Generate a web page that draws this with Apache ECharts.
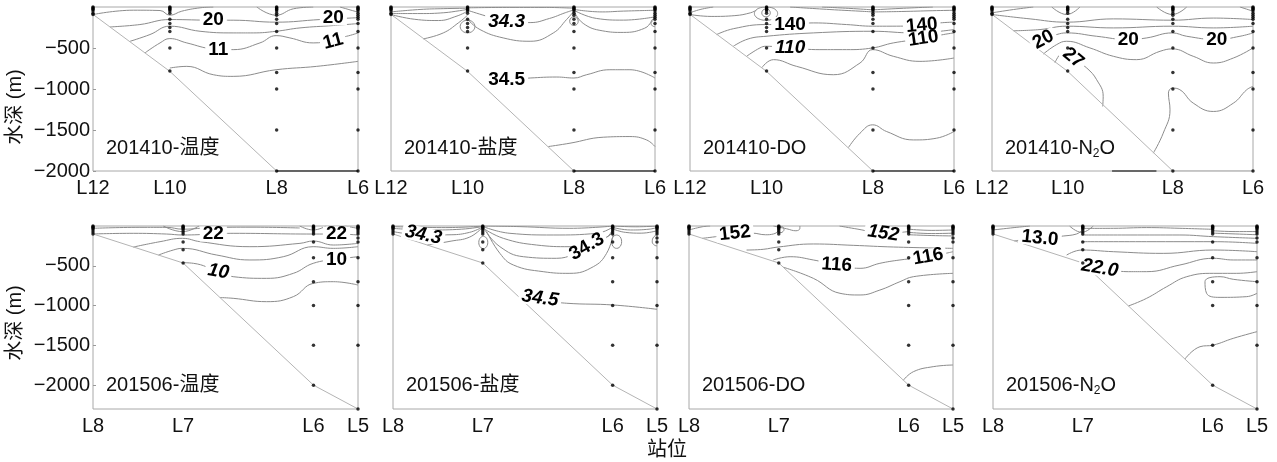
<!DOCTYPE html>
<html>
<head>
<meta charset="utf-8">
<script src="https://cdn.jsdelivr.net/npm/echarts@6/dist/echarts.min.js"></script>
<style>
html,body{margin:0;padding:0;background:#fff;}
#chart{width:1277px;height:462px;}
</style>
</head>
<body>
<div id="chart"></div>
<script>
// ---- Stations (distance along the section, 0-100) ----
const stations1410 = ['L12', 'L10', 'L8', 'L6'];
const stationX1410 = [0, 29, 69.3, 100];
const stations1506 = ['L8', 'L7', 'L6', 'L5'];
const stationX1506 = [0, 34, 83.2, 100];
const depthTicks = [500, 1000, 1500, 2000];
const maxDepth1410 = 2000;
const maxDepth1506 = 2300;

// ---- Sampling depths (m) at each station ----
const samples1410 = [
  [0, 10, 20, 30, 50, 75, 90],
  [0, 10, 20, 30, 50, 75, 150, 200, 250, 300, 500, 780],
  [0, 10, 20, 30, 50, 75, 100, 150, 200, 300, 500, 800, 1000, 1500, 2000],
  [0, 10, 20, 30, 50, 75, 100, 125, 150, 200, 300, 500, 800, 1000, 1500, 2000]
];
const samples1506 = [
  [0, 10, 20, 30, 50, 75, 100],
  [0, 10, 20, 30, 50, 75, 100, 200, 300, 465],
  [0, 10, 20, 30, 50, 75, 100, 200, 400, 700, 1000, 1500, 2000],
  [0, 10, 20, 30, 50, 75, 100, 150, 200, 400, 700, 1000, 1500, 2300]
];

// ---- Seabed profile [distance, depth] ----
const seabed1410 = [[0, 90], [29, 785], [69.3, 2000], [100, 2000]];
const seabed1506 = [[0, 100], [34, 465], [83.2, 2000], [100, 2300]];
const floor1410 = [[69.3, 2000], [100, 2000]];
const floorN2o1410 = [[46, 2000], [63, 2000]];

// ---- Isolines [distance, depth] ----
const temp1410Lines = [
  [[0,92],[15.2,39],[25.3,43],[29,100],[33.5,51],[40.4,10],[45.4,0]],
  [[61.8,0],[69.1,100],[75.6,22],[83.1,0]],
  [[93.2,0],[100,63]],
  [[6.4,243],[17.7,214],[29,153],[45.4,161],[52.9,161],[69.1,185],[85.7,153],[97,135],[100,130]],
  [[14,418],[21.5,336],[29,234],[40.4,296],[52.9,316],[60.5,316],[69.1,296],[78.1,255],[90.7,226],[100,202]],
  [[19.6,560],[25.3,438],[29,385],[35.4,438],[45.4,511],[52.9,520],[63,438],[69.1,349],[74.3,377],[83.1,438],[95.7,357],[100,316]],
  [[29,744],[35.4,724],[45.4,826],[52.9,846],[69.1,765],[84.4,724],[100,663]]
];
const temp1410Labels = [[45.4,161,'20'],[90.7,132,'20'],[47.3,520,'11'],[90.6,418,'11']];

const sal1410Lines = [
  [[0,60],[11,30],[20,20],[29,15]],
  [[0,80],[11,80],[20,70],[26,45],[29,30]],
  [[0,92],[9,150],[18,165],[25,110],[29,50]],
  [[12.2,389],[19.8,316],[25.5,194],[29,100]],
  [[29,10],[45,5],[58,5],[69.3,15]],
  [[29,40],[36,110],[43.8,180],[52.7,190],[60,140],[66,70],[69.3,35]],
  [[29,150],[33.7,275],[42.5,377],[52.7,418],[61.5,316],[66.5,153],[69.3,51]],
  [[29,161],[30.4,171],[31.4,200],[31.8,238],[31.4,276],[30.4,305],[29,315],[27.6,305],[26.6,276],[26.2,238],[26.6,200],[27.6,171],[29,161]],
  [[69.3,120],[70.1,127],[70.7,146],[70.9,173],[70.7,200],[70.1,219],[69.3,226],[68.5,219],[67.9,200],[67.7,173],[67.9,146],[68.5,127],[69.3,120]],
  [[69.3,30],[80,60],[88,50],[100,40]],
  [[69.3,40],[77.9,140],[88,160],[100,120]],
  [[69.3,50],[72.8,200],[80,290],[88,310],[96,260],[99,170],[100,140]],
  [[100,130],[98.8,160],[98.5,200],[99,230],[100,240]],
  [[43.8,887],[52.7,866],[62.8,854],[69.3,866],[74.1,826],[82.9,765],[90.5,765],[100,866]],
  [[59.6,1702],[67.8,1661],[80.4,1588],[90.5,1580],[96.8,1621],[100,1702]]
];
const sal1410Labels = [[43.8,185,'34.3'],[43.8,887,'34.5']];

const do1410Lines = [
  [[0,71],[3.8,31],[8.8,0]],
  [[0,92],[8,115],[17,105],[23,70],[25,40]],
  [[28.8,0],[31,9],[32.6,39],[33.2,80],[32.6,121],[31,151],[28.8,162],[26.6,151],[25,121],[24.4,80],[25,39],[26.6,9],[28.8,0]],
  [[28.8,24],[29.6,30],[30.2,48],[30.4,72],[30.2,96],[29.6,114],[28.8,120],[28,114],[27.4,96],[27.2,72],[27.4,48],[28,30],[28.8,24]],
  [[37.9,0],[53,31],[64.4,51],[69.2,60]],
  [[50,0],[62,20],[69.2,35]],
  [[69.2,35],[78,20],[88,5],[92,0]],
  [[69.2,60],[80,55],[92,45],[100,40]],
  [[10.1,336],[16.4,265],[28.8,214],[37.9,214],[46.7,194],[59.3,214],[69.2,234],[74.5,234],[87.8,225],[94.7,194],[100,185]],
  [[16.4,479],[22,390],[28.8,357],[46.7,316],[69.2,296],[84.6,316],[100,275]],
  [[21.5,600],[26.5,499],[28.8,479],[37.9,499],[49.2,520],[59.3,520],[69.2,499],[77,438],[88.4,385],[96,336],[100,316]],
  [[27.2,740],[31.6,642],[40.4,724],[54.3,826],[64.4,683],[69.2,520],[77,601],[87.1,663],[100,622]],
  [[60,1715],[64.4,1539],[69.2,1437],[74.5,1519],[84.6,1621],[93.4,1600],[100,1519]]
];
const do1410Labels = [[37.9,214,'140'],[87.8,225,'140'],[37.9,499,'110'],[88.4,385,'110']];

const n2o1410Lines = [
  [[22.9,0],[28.6,92],[33.7,0]],
  [[63.1,0],[69.1,92],[74.6,0]],
  [[95,0],[100,51]],
  [[0,71],[8.2,31],[15.8,0]],
  [[0,92],[14.6,145],[28.6,185],[46.5,145],[69.1,161],[84.8,135],[100,153]],
  [[8.2,290],[18.4,275],[28.6,234],[46.5,255],[69.1,234],[84.8,255],[100,234]],
  [[14.6,440],[19.7,397],[24.8,336],[28.6,316],[40.1,357],[52.2,397],[59.3,377],[69.1,316],[74.6,357],[86.1,397],[95,357],[100,316]],
  [[19.7,573],[24.8,458],[28.6,418],[37.5,499],[46.5,601],[55.4,642],[64.4,540],[69.1,511],[77.1,601],[84.8,683],[92.5,622],[100,499]],
  [[24.1,680],[26.5,560],[28.5,540],[31.1,622],[36.3,744],[40.1,887],[42.6,1090],[42.4,1213]],
  [[61.8,1782],[65.6,1539],[68.2,1254],[67.6,1050],[69.1,989],[72,1009],[77.1,1172],[84.8,1274],[92.5,1172],[97.6,1009],[100,968]]
];
const n2o1410Labels = [[19.7,397,'20'],[52.2,397,'20'],[86.1,397,'20'],[31.1,622,'27']];

const temp1506Lines = [
  [[26.5,0],[33.8,71],[40,0]],
  [[78,0],[83.1,50],[88,0]],
  [[95,0],[100,30]],
  [[0,29],[17.7,17],[27.8,17],[33.8,40],[45,20],[60,15],[78,25]],
  [[0,100],[15.2,92],[27.8,101],[33.8,113],[45.4,101],[52.9,92],[83.1,101],[91.9,101],[100,113]],
  [[15.2,265],[25.3,197],[33.8,155],[40.4,197],[59.2,260],[78.1,218],[83.1,189],[90.7,239],[100,218]],
  [[24.7,365],[30.3,302],[33.8,281],[46.7,365],[59.2,427],[71.8,386],[83.1,260],[90.7,281],[100,260]],
  [[33.8,461],[37.9,469],[47.3,574],[52.9,637],[65.5,658],[75.6,595],[83.1,469],[91.9,419],[100,386]],
  [[47.9,899],[52.9,909],[65.5,951],[75.6,888],[83.1,721],[90.7,700],[100,742]]
];
const temp1506Labels = [[45.4,101,'22'],[91.9,101,'22'],[47.3,574,'10'],[91.9,419,'10']];

const sal1506Lines = [
  [[0,8],[20,20],[34.2,0]],
  [[0,30],[14,50],[26,40],[34.2,5]],
  [[0,70],[11.5,113],[22,110],[29,80],[33.5,20]],
  [[13,240],[22,190],[29,140],[33.5,30]],
  [[34.2,129],[35.05,140],[35.67,168],[35.9,207],[35.67,246],[35.05,274],[34.2,285],[33.35,274],[32.73,246],[32.5,207],[32.73,168],[33.35,140],[34.2,129]],
  [[34.2,0],[48.1,8],[67,29],[83.5,0]],
  [[34.2,8],[44.3,92],[60.7,113],[77.2,92],[83.5,8]],
  [[34.2,29],[41.8,155],[54.4,239],[67,260],[79.6,176],[83.5,29]],
  [[34.8,50],[40.5,260],[49.4,386],[62,406],[73.4,260],[82.2,113],[83.5,50]],
  [[35.5,71],[40.5,344],[45.6,490],[56.9,574],[67,595],[75.9,511],[80.9,344],[83.5,92]],
  [[84.7,113],[85.65,124],[86.35,155],[86.6,197],[86.35,239],[85.65,270],[84.7,281],[83.75,270],[83.05,239],[82.8,197],[83.05,155],[83.75,124],[84.7,113]],
  [[83.5,0],[92,10],[100,0]],
  [[83.5,20],[90,50],[97,40],[100,20]],
  [[83.5,40],[88,80],[94,90],[100,60]],
  [[100,105],[98.5,150],[98.2,200],[99,240],[100,250]],
  [[55.7,930],[65.8,971],[83.5,993],[100,1047]]
];
const sal1506Labels = [[11.5,113,'34.3'],[73.4,260,'34.3'],[55.7,909,'34.5']];

const do1506Lines = [
  [[0,50],[5,10],[8,0]],
  [[5,155],[11,130],[17.4,95],[24,90],[29,110],[32,100],[33.8,60],[34.5,0]],
  [[34.8,5],[35.6,14],[36,42],[35.6,70],[34.8,84],[34,70],[33.6,42],[34,14],[34.8,5]],
  [[32,0],[37,35],[40.5,60],[42,30],[42,0]],
  [[57,0],[64,40],[73.6,92],[80,80],[83.3,70]],
  [[83.3,40],[92,55],[100,50]],
  [[83.3,80],[92,95],[100,90]],
  [[83.3,110],[92,120],[100,125]],
  [[21.8,302],[28.1,293],[33.8,264],[47.1,226],[62.2,243],[77.4,264],[100,281]],
  [[31.9,427],[38.3,386],[47.1,427],[55.9,490],[64.8,532],[72.3,469],[79.9,427],[90.6,386],[100,323]],
  [[35.7,518],[47.1,658],[57.2,846],[64.8,867],[72.3,805],[79.9,700],[85,637],[100,595]],
  [[81.2,1938],[85,1831],[92.5,1768],[100,1747]]
];
const do1506Labels = [[17.4,92,'152'],[73.6,92,'152'],[55.9,490,'116'],[90.6,386,'116']];

const n2o1506Lines = [
  [[0,50],[8,20],[14,0]],
  [[8,186],[17.8,155],[26.6,126],[31.6,101],[33.6,60]],
  [[29,0],[33.6,80],[38,0]],
  [[33.6,30],[45.6,29],[58.2,20],[70.8,29],[83.5,42]],
  [[33.6,113],[51.9,113],[70.8,113],[83.5,134],[100,155]],
  [[33.6,197],[58.2,197],[83.5,197],[100,218]],
  [[27.9,365],[33.6,302],[45.6,323],[64.5,344],[83.5,302],[100,323]],
  [[40.5,532],[51.3,574],[58.2,574],[70.8,490],[83.5,406],[91,427],[100,427]],
  [[51.3,1005],[58.2,909],[65.8,763],[73.4,637],[83.5,595],[92.3,595],[100,574]],
  [[100,700],[91,670],[86,637],[80.3,700],[80.9,846],[86,897],[96.1,888],[100,846]],
  [[72.7,1672],[78.4,1517],[83.5,1496],[91,1412],[100,1328]],
  [[83.5,60],[92,70],[100,70]],
  [[83.5,90],[92,100],[100,110]]
];
const n2o1506Labels = [[17.8,155,'13.0'],[40.5,532,'22.0']];

// ---- Layout & styling ----
const FONT = "'Liberation Sans', Arial, 'Noto Sans CJK SC', sans-serif";
const rows = [
  { stations: stations1410, x: stationX1410, maxDepth: maxDepth1410, samples: samples1410,
    seabed: seabed1410, top: 7, height: 164, lefts: [93, 391, 690, 992], widths: [265, 264, 264, 261],
    titleY: 148 },
  { stations: stations1506, x: stationX1506, maxDepth: maxDepth1506, samples: samples1506,
    seabed: seabed1506, top: 226, height: 183, lefts: [93, 393, 689, 993], widths: [265, 264, 264, 264],
    titleY: 385 }
];
const panels = [
  { row: 0, col: 0, title: ['201410-温度'], lines: temp1410Lines, labels: temp1410Labels, floor: floor1410,
    rot: [0, 0, 0, 15], italic: [0, 0, 0, 0] },
  { row: 0, col: 1, title: ['201410-盐度'], lines: sal1410Lines, labels: sal1410Labels, floor: floor1410,
    rot: [0, 0], italic: [1, 0] },
  { row: 0, col: 2, title: ['201410-DO'], lines: do1410Lines, labels: do1410Labels, floor: floor1410,
    rot: [0, 5, 0, 8], italic: [0, 0, 1, 0] },
  { row: 0, col: 3, title: ['201410-N', '2', 'O'], lines: n2o1410Lines, labels: n2o1410Labels, floor: floorN2o1410,
    rot: [28, 0, 0, -40], italic: [0, 0, 0, 0] },
  { row: 1, col: 0, title: ['201506-温度'], lines: temp1506Lines, labels: temp1506Labels, floor: null,
    rot: [0, 0, -10, 0], italic: [0, 0, 1, 0] },
  { row: 1, col: 1, title: ['201506-盐度'], lines: sal1506Lines, labels: sal1506Labels, floor: null,
    rot: [-12, 30, -8], italic: [1, 0, 1] },
  { row: 1, col: 2, title: ['201506-DO'], lines: do1506Lines, labels: do1506Labels, floor: null,
    rot: [6, -8, -4, 10], italic: [0, 1, 0, 0] },
  { row: 1, col: 3, title: ['201506-N', '2', 'O'], lines: n2o1506Lines, labels: n2o1506Labels, floor: null,
    rot: [-6, -10], italic: [0, 1] }
];

const measure = (() => {
  const ctx = document.createElement('canvas').getContext('2d');
  return (txt, size) => { ctx.font = size + "px 'Liberation Sans', Arial, 'Noto Sans CJK SC', sans-serif"; return ctx.measureText(txt).width; };
})();

const grid = [], xAxis = [], yAxis = [], series = [], graphic = [];

panels.forEach((p, i) => {
  const r = rows[p.row];
  const left = r.lefts[p.col], width = r.widths[p.col];
  grid.push({ left: left, top: r.top, width: width, height: r.height, show: true,
    borderColor: '#a8a8a8', borderWidth: 1, backgroundColor: 'transparent' });
  xAxis.push({
    gridIndex: i, type: 'value', min: 0, max: 100,
    axisLine: { show: false }, axisTick: { show: false }, splitLine: { show: false },
    axisLabel: {
      customValues: r.x,
      formatter: v => {
        let k = 0, best = Infinity;
        r.x.forEach((sx, j) => { const dd = Math.abs(sx - v); if (dd < best) { best = dd; k = j; } });
        return r.stations[k];
      },
      fontSize: 20, color: '#111', fontFamily: FONT, margin: 7
    }
  });
  const firstCol = p.col === 0;
  yAxis.push({
    gridIndex: i, type: 'value', inverse: true, min: 0, max: r.maxDepth,
    axisLine: { show: false }, splitLine: { show: false },
    axisTick: { show: firstCol, inside: true, length: 3, customValues: depthTicks, lineStyle: { color: '#999' } },
    axisLabel: { show: firstCol, customValues: depthTicks, formatter: v => '\u2212' + v,
      fontSize: 20, color: '#111', fontFamily: FONT, margin: 3 }
  });

  // isolines
  p.lines.forEach(l => {
    series.push({ type: 'line', xAxisIndex: i, yAxisIndex: i, data: l, smooth: 0.45, symbol: 'none',
      silent: true, animation: false, z: 2, lineStyle: { color: '#8c8c8c', width: 1 } });
  });
  // seabed
  series.push({ type: 'line', xAxisIndex: i, yAxisIndex: i, data: r.seabed, symbol: 'none', silent: true,
    animation: false, z: 3, lineStyle: { color: '#b4b4b4', width: 1 } });
  if (p.floor) {
    series.push({ type: 'line', xAxisIndex: i, yAxisIndex: i, data: p.floor, symbol: 'none', silent: true,
      animation: false, z: 3, clip: false, lineStyle: { color: '#444', width: 1.5 } });
  }
  // sampling points
  const dots = [];
  r.samples.forEach((list, s) => list.forEach(d => dots.push([r.x[s], d])));
  series.push({ type: 'scatter', xAxisIndex: i, yAxisIndex: i, data: dots, symbol: 'circle', symbolSize: 3.5,
    silent: true, animation: false, clip: false, z: 6, itemStyle: { color: '#000' } });
  // isoline values
  series.push({
    type: 'scatter', xAxisIndex: i, yAxisIndex: i, symbolSize: 1, silent: true, animation: false, z: 5,
    itemStyle: { color: 'rgba(0,0,0,0)' },
    data: p.labels.map((lb, k) => ({
      value: [lb[0], lb[1]], name: lb[2],
      label: { rotate: p.rot[k] || 0, fontStyle: p.italic[k] ? 'italic' : 'normal' }
    })),
    label: { show: true, position: 'inside', formatter: '{b}', fontSize: 19, fontWeight: 'bold',
      lineHeight: 15, color: '#000', opacity: 1, textBorderWidth: 0, textBorderColor: 'transparent',
      fontFamily: FONT, backgroundColor: '#fff', padding: [0, 3] }
  });

  // panel title
  const tx = left + 13;
  if (p.title.length === 1) {
    graphic.push({ type: 'text', x: tx, y: r.titleY, silent: true,
      style: { text: p.title[0], fontSize: 20, fontFamily: FONT, fill: '#111', align: 'left', verticalAlign: 'middle' } });
  } else {
    const w0 = measure(p.title[0], 20), w1 = measure(p.title[1], 12);
    graphic.push({ type: 'text', x: tx, y: r.titleY, silent: true,
      style: { text: p.title[0], fontSize: 20, fontFamily: FONT, fill: '#111', align: 'left', verticalAlign: 'middle' } });
    graphic.push({ type: 'text', x: tx + w0, y: r.titleY + 6, silent: true,
      style: { text: p.title[1], fontSize: 12, fontFamily: FONT, fill: '#111', align: 'left', verticalAlign: 'middle' } });
    graphic.push({ type: 'text', x: tx + w0 + w1, y: r.titleY, silent: true,
      style: { text: p.title[2], fontSize: 20, fontFamily: FONT, fill: '#111', align: 'left', verticalAlign: 'middle' } });
  }
});

// axis titles
[107, 323].forEach(cy => {
  graphic.push({ type: 'text', x: 15, y: cy, rotation: Math.PI / 2, silent: true,
    style: { text: '水深 (m)', fontSize: 20, fontFamily: FONT, fill: '#111', align: 'center', verticalAlign: 'middle' } });
});
graphic.push({ type: 'text', x: 667, y: 450, silent: true,
  style: { text: '站位', fontSize: 20, fontFamily: FONT, fill: '#111', align: 'center', verticalAlign: 'middle' } });

const chart = echarts.init(document.getElementById('chart'), null, { renderer: 'canvas' });
chart.setOption({ animation: false, backgroundColor: '#fff', grid, xAxis, yAxis, series, graphic });
</script>
</body>
</html>
